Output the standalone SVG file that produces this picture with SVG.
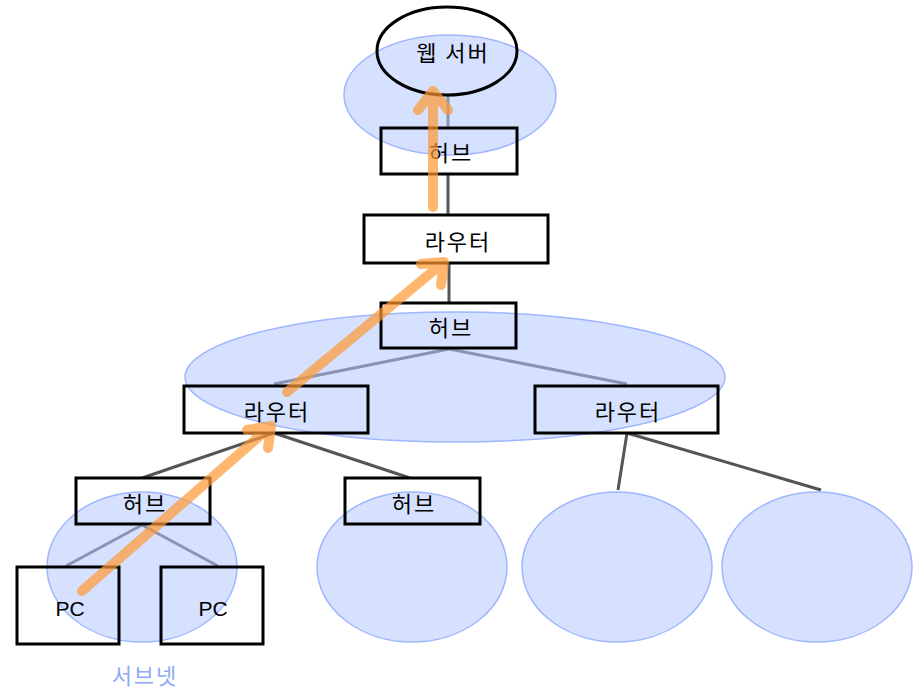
<svg xmlns="http://www.w3.org/2000/svg" width="921" height="700" viewBox="0 0 921 700">
<style>
.ln{stroke:#555;stroke-width:3;fill:none}
.bg{fill:#fff;stroke:none}
.box{fill:none;stroke:#000;stroke-width:3}
.sub{fill:#b3c8ff;fill-opacity:0.55;stroke:#9fb6ff;stroke-width:1.5}
.t{font-family:"Noto Sans CJK KR","Noto Sans",sans-serif;font-size:22px;letter-spacing:2px;fill:#000;text-anchor:middle;dominant-baseline:central}
.pc{font-family:"Liberation Sans",sans-serif;font-size:21px;letter-spacing:0}
.arr{fill:none;stroke:#ff9933;stroke-width:10;stroke-linecap:round;stroke-linejoin:round}
</style>
<rect width="921" height="700" fill="#fff"/>
<g id="connectors">
<line class="ln" x1="448" y1="95" x2="448" y2="215"/>
<line class="ln" x1="449" y1="263" x2="449" y2="303"/>
<line class="ln" x1="449" y1="349" x2="274" y2="384"/>
<line class="ln" x1="449" y1="349" x2="627" y2="384"/>
<line class="ln" x1="274" y1="433" x2="142" y2="478"/>
<line class="ln" x1="274" y1="433" x2="410" y2="478"/>
<line class="ln" x1="627" y1="433" x2="618" y2="490"/>
<line class="ln" x1="627" y1="433" x2="821" y2="490"/>
<line class="ln" x1="142" y1="525" x2="66" y2="566"/>
<line class="ln" x1="142" y1="525" x2="218" y2="566"/>
</g>
<g id="box-backgrounds">
<rect class="bg" x="381" y="128" width="136" height="46"/>
<rect class="bg" x="364" y="215" width="184" height="48"/>
<rect class="bg" x="381" y="303" width="135" height="45"/>
<rect class="bg" x="184" y="386" width="184" height="47"/>
<rect class="bg" x="535" y="386" width="183" height="47"/>
<rect class="bg" x="76" y="478" width="134" height="46"/>
<rect class="bg" x="345" y="478" width="135" height="46"/>
<rect class="bg" x="17" y="567" width="102" height="77"/>
<rect class="bg" x="161" y="567" width="102" height="77"/>
</g>
<g id="subnets">
<ellipse id="subnet-top" class="sub" cx="450" cy="95" rx="106" ry="60"/>
<ellipse id="subnet-mid" class="sub" cx="455" cy="377" rx="270" ry="65"/>
<ellipse id="subnet-a" class="sub" cx="142" cy="567" rx="95" ry="75"/>
<ellipse id="subnet-b" class="sub" cx="412" cy="567" rx="95" ry="75"/>
<ellipse id="subnet-c" class="sub" cx="617" cy="567" rx="95" ry="75"/>
<ellipse id="subnet-d" class="sub" cx="817" cy="567" rx="95" ry="75"/>
</g>
<g id="webserver"><ellipse cx="447" cy="51" rx="70" ry="44" fill="none" stroke="#000" stroke-width="3"/><text class="t" x="453" y="51">웹 서버</text></g>
<g id="hub1"><rect class="box" x="381" y="128" width="136" height="46"/><text class="t" x="451" y="151">허브</text></g>
<g id="router1"><rect class="box" x="364" y="215" width="184" height="48"/><text class="t" x="458" y="240">라우터</text></g>
<g id="hub2"><rect class="box" x="381" y="303" width="135" height="45"/><text class="t" x="451" y="326">허브</text></g>
<g id="router2"><rect class="box" x="184" y="386" width="184" height="47"/><text class="t" x="277" y="410">라우터</text></g>
<g id="router3"><rect class="box" x="535" y="386" width="183" height="47"/><text class="t" x="628" y="410">라우터</text></g>
<g id="hub3"><rect class="box" x="76" y="478" width="134" height="46"/><text class="t" x="145" y="502">허브</text></g>
<g id="hub4"><rect class="box" x="345" y="478" width="135" height="46"/><text class="t" x="414" y="502">허브</text></g>
<g id="pc1"><rect class="box" x="17" y="567" width="102" height="77"/><text class="t pc" x="70" y="608">PC</text></g>
<g id="pc2"><rect class="box" x="161" y="567" width="102" height="77"/><text class="t pc" x="213" y="608">PC</text></g>
<g id="subnet-label"><text class="t" x="145" y="674" style="fill:#8fa8f8">서브넷</text></g>
<g id="path-arrows" opacity="0.7">
<path class="arr" d="M82 591 L271 426 M247 430 L271 426 L268 448"/>
<path class="arr" d="M287 392 L444 262 M421 264 L444 262 L441 285"/>
<path class="arr" d="M433 207 L433 91 M418 110 L433 91 L448 110"/>
</g>
</svg>
